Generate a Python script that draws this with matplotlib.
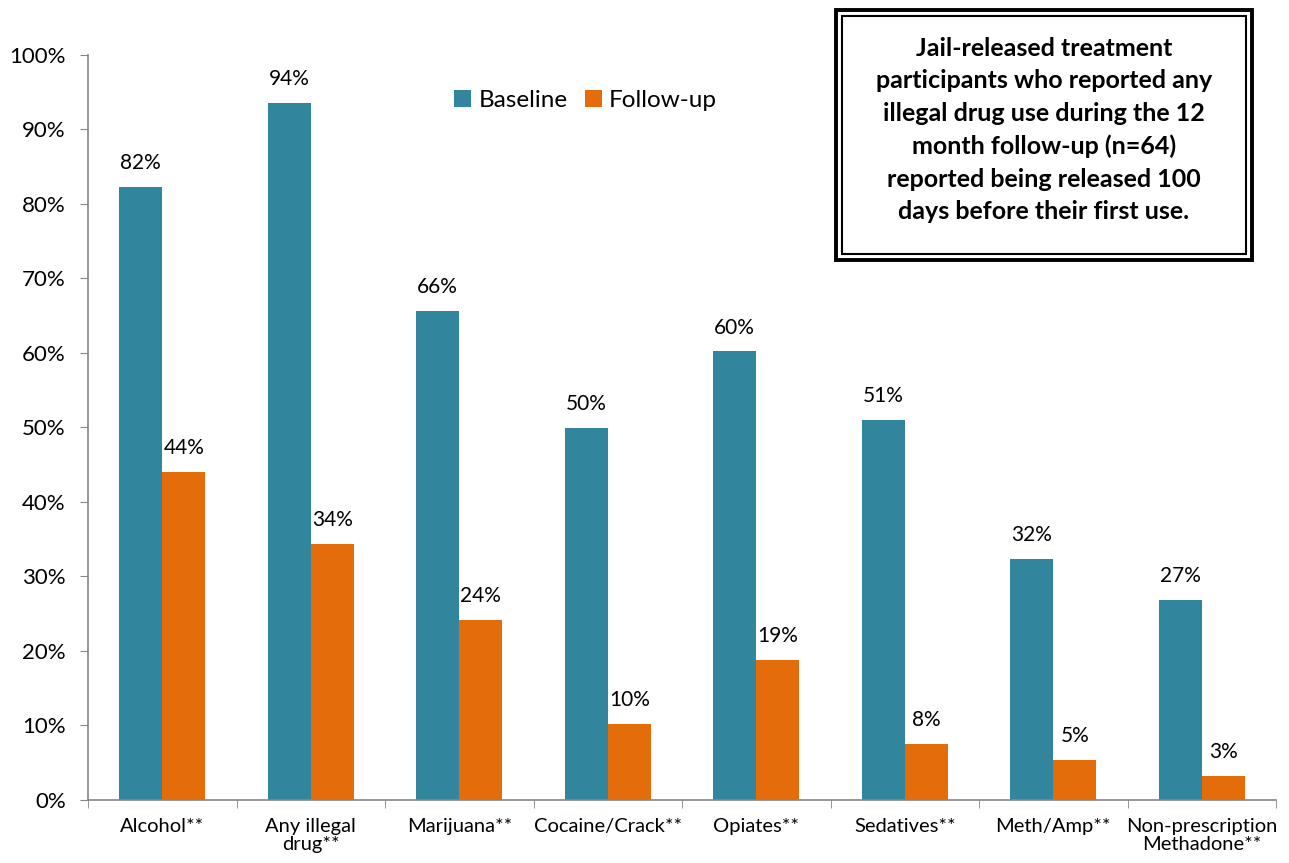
import numpy as np
import matplotlib
matplotlib.use("Agg")
from matplotlib import pyplot as plt
from matplotlib.patches import Rectangle
from matplotlib.ticker import FixedLocator, PercentFormatter

plt.rcParams['font.family'] = ['Lato', 'DejaVu Sans']

categories = ["Alcohol**", "Any illegal\ndrug**", "Marijuana**", "Cocaine/Crack**",
              "Opiates**", "Sedatives**", "Meth/Amp**", "Non-prescription\nMethadone**"]
baseline = [82.3, 93.6, 65.6, 49.9, 60.2, 51.0, 32.3, 26.9]
followup = [44.0, 34.4, 24.2, 10.2, 18.8, 7.5, 5.4, 3.2]
baseline_labels = ["82%", "94%", "66%", "50%", "60%", "51%", "32%", "27%"]
followup_labels = ["44%", "34%", "24%", "10%", "19%", "8%", "5%", "3%"]

blue = "#31859C"
orange = "#E46C0A"
gray = "#868686"

fig = plt.figure(figsize=(12.89, 8.63), dpi=100)
ax = fig.add_axes([0.0683, 0.073, 0.9217, 0.8633])

x = np.arange(len(categories))
w = 0.29
b1 = ax.bar(x - w/2, baseline, w, color=blue, label="Baseline")
b2 = ax.bar(x + w/2, followup, w, color=orange, label="Follow-up")

for rect, lab in zip(b1, baseline_labels):
    ax.annotate(lab, (rect.get_x() + rect.get_width()/2, rect.get_height()),
                xytext=(0, 10), textcoords="offset points", ha="center", va="bottom", fontsize=15)
for rect, lab in zip(b2, followup_labels):
    ax.annotate(lab, (rect.get_x() + rect.get_width()/2, rect.get_height()),
                xytext=(0, 10), textcoords="offset points", ha="center", va="bottom", fontsize=15)

ax.set_xlim(-0.5, len(categories) - 0.5)
ax.set_ylim(0, 100)
ax.set_yticks(np.arange(0, 101, 10))
ax.yaxis.set_major_formatter(PercentFormatter(decimals=0))
ax.set_xticks(x)
ax.set_xticklabels(categories, fontsize=14.5, linespacing=1.05)
ax.xaxis.set_minor_locator(FixedLocator(np.arange(-0.5, len(categories), 1)))
ax.tick_params(axis='x', which='major', length=0, pad=13)
ax.tick_params(axis='x', which='minor', length=6, color=gray, direction='out')
ax.tick_params(axis='y', length=6, color=gray, labelsize=16, pad=10)

for s in ['top', 'right']:
    ax.spines[s].set_visible(False)
for s in ['left', 'bottom']:
    ax.spines[s].set_color(gray)
    ax.spines[s].set_linewidth(1.2)

ax.legend(loc='upper left', bbox_to_anchor=(0.29, 0.982), ncol=2, frameon=False,
          fontsize=17.5, handlelength=0.7, handleheight=0.7, handletextpad=0.3,
          columnspacing=0.7)

# double-bordered text box
fig.patches.append(Rectangle((836/1289, 1 - 260/863), 416/1289, 250/863,
                             transform=fig.transFigure, fill=False, lw=2.8, ec='black'))
fig.patches.append(Rectangle((842/1289, 1 - 254/863), 404/1289, 238/863,
                             transform=fig.transFigure, fill=False, lw=1.5, ec='black'))
fig.text(1044/1289, 1 - 130/863,
         "Jail-released treatment\nparticipants who reported any\nillegal drug use during the 12\n"
         "month follow-up (n=64)\nreported being released 100\ndays before their first use.",
         ha='center', va='center', fontsize=18, fontweight='bold', linespacing=1.5)

fig.savefig("out.png", dpi=100)
